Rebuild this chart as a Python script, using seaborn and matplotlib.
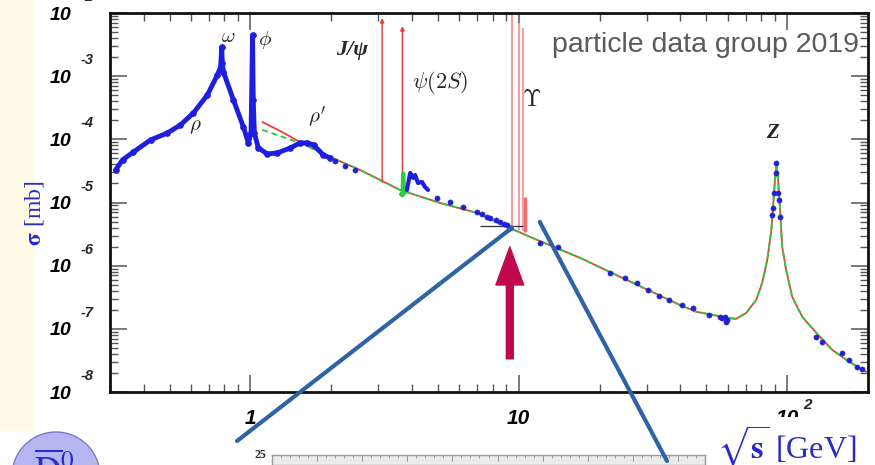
import matplotlib
matplotlib.use('Agg')
import matplotlib.pyplot as plt
import matplotlib.patches as mpatches
from matplotlib.ticker import NullFormatter
import seaborn as sns

# rho / omega / phi region, sqrt(s) in GeV, sigma in mb
low_x = [0.315, 0.334, 0.367, 0.425, 0.491, 0.549, 0.614, 0.692, 0.754, 0.775,
         0.782, 0.786, 0.794, 0.865, 0.942, 0.983, 1.006, 1.019, 1.025, 1.035,
         1.071, 1.157, 1.26, 1.41, 1.53, 1.63, 1.72, 1.87, 1.98]
low_y = [3.28e-5, 4.72e-5, 6.32e-5, 9.8e-5, 1.26e-4, 1.69e-4, 2.62e-4, 5.05e-4, 1.05e-3, 1.40e-3,
         2.90e-3, 1.62e-3, 1.16e-3, 4.20e-4, 1.57e-4, 8.77e-5, 1.26e-4, 4.49e-3, 4.2e-4, 1.26e-4,
         7.31e-5, 5.87e-5, 6.09e-5, 7.31e-5, 8.77e-5, 8.77e-5, 8.15e-5, 5.66e-5, 5.08e-5]

# charm threshold wiggles
charm_x = [3.83, 3.94, 4.04, 4.11, 4.21, 4.36, 4.47, 4.59]
charm_y = [1.58e-5, 2.94e-5, 2.45e-5, 2.73e-5, 2.04e-5, 2.12e-5, 1.77e-5, 1.58e-5]
green_pk_x = [3.64, 3.69, 3.71, 3.74, 3.78]
green_pk_y = [1.35e-5, 1.30e-5, 2.90e-5, 1.40e-5, 1.50e-5]

# measured points above 2 GeV
pts_x = [2.07, 2.25, 2.46, 4.96, 5.54, 6.19, 6.98, 7.3, 7.6, 7.80, 8.2, 8.50, 8.8, 9.02, 9.3,
         12.0, 14.0, 21.8, 24.8, 27.5, 30.2, 33.4, 36.4, 40.7, 44.4, 51.3, 56.0, 57.3, 58.5,
         59.3, 59.5, 87.9, 88.8, 89.5, 91.0, 91.2, 92.5, 93.4, 94.1,
         128.3, 135, 160, 170, 182, 190]
pts_y = [4.55e-5, 3.79e-5, 3.28e-5, 1.18e-5, 1.02e-5, 8.51e-6, 7.10e-6, 6.5e-6, 6.0e-6, 5.70e-6,
         5.3e-6, 4.93e-6, 4.6e-6, 4.42e-6, 4.0e-6,
         2.30e-6, 1.98e-6, 7.69e-7, 6.41e-7, 5.35e-7, 4.14e-7, 3.33e-7, 2.88e-7, 2.40e-7, 2.15e-7,
         1.67e-7, 1.55e-7, 1.49e-7, 1.52e-7, 1.29e-7, 1.38e-7, 6.37e-6, 8.22e-6, 1.42e-5, 2.94e-5,
         4.24e-5, 1.42e-5, 1.10e-5, 5.91e-6, 7.46e-8, 6.22e-8, 4.17e-8, 3.23e-8, 2.50e-8, 2.33e-8]

# fitted curve
fit_x = [1.108, 1.29, 1.53, 1.98, 2.56, 3.04, 3.61, 5.08, 6.98, 9.26, 11.0, 16.9, 21.8, 39.7,
         45.9, 52.6, 59.3, 64.6, 70.4, 76.7, 80.7, 84.3, 87.3, 88.8, 90.2, 91.2, 92.5, 94.1,
         95.8, 99.1, 104.4, 113.8, 128.3, 147, 170, 197]
fit_y = [1.88e-4, 1.36e-4, 9.1e-5, 5.27e-5, 3.28e-5, 2.28e-5, 1.58e-5, 9.86e-6, 6.84e-6, 3.96e-6,
         2.86e-6, 1.33e-6, 7.98e-7, 2.40e-7, 1.86e-7, 1.67e-7, 1.49e-7, 1.44e-7, 1.79e-7, 2.88e-7,
         5.35e-7, 1.24e-6, 3.68e-6, 9.86e-6, 2.54e-5, 4.24e-5, 2.28e-5, 7.64e-6, 1.98e-6, 8.58e-7,
         3.21e-7, 1.55e-7, 8.65e-8, 4.66e-8, 3.01e-8, 2.09e-8]
green_y = [1.41e-4, 1.13e-4, 8.77e-5] + fit_y[3:]

# narrow resonances
psi_x = [3.097, 3.686]
psi_lo = [2.1e-5, 1.46e-5]
psi_hi = [8.3e-3, 6.2e-3]
ups_x = [9.46, 10.02, 10.36]
ups_lo = [4.0e-6, 3.7e-6, 3.5e-6]
ups_hi = [1.0e-2, 6.95e-3, 5.8e-3]
ups4s_x = 10.58
ups4s_lo, ups4s_hi = 3.4e-6, 1.23e-5

X_TICKS = [1, 10, 100]
X_TICK_LABELS = ['1', '10', '10']
X_EXPONENTS = ['', '', '2']
Y_TICKS = [1e-8, 1e-7, 1e-6, 1e-5, 1e-4, 1e-3, 1e-2]
Y_TICK_LABELS = ['10'] * 7
Y_EXPONENTS = ['-8', '-7', '-6', '-5', '-4', '-3', '-2']

BLUE = '#1e1ee0'
RED = '#e8403a'
GREEN = '#2ecc40'
PINK = '#f3a0a0'
LABEL_BLUE = '#2a2ac8'
TICK_FONT = dict(family='Liberation Sans', fontweight='bold', fontstyle='italic')

sns.set_theme(style='ticks')
plt.rcParams['font.family'] = ['Liberation Sans', 'DejaVu Sans']

fig = plt.figure(figsize=(8.75, 4.65), dpi=100)
fig.patch.set_facecolor('white')
fig.add_artist(mpatches.Rectangle((0, 1 - 430 / 465), 33 / 875, 430 / 465,
                                  transform=fig.transFigure, color='#fffbe6', zorder=-2))

ax = fig.add_axes([110 / 875, 1 - 392 / 465, 758 / 875, 379 / 465])
ax.set_facecolor('white')

sns.lineplot(x=fit_x, y=fit_y, ax=ax, color=RED, lw=1.3, sort=False, estimator=None, zorder=2)
sns.lineplot(x=fit_x, y=green_y, ax=ax, color=GREEN, lw=1.4, ls=(0, (3, 2)),
             sort=False, estimator=None, zorder=2)

for x, lo, hi in zip(psi_x, psi_lo, psi_hi):
    ax.annotate('', xy=(x, hi), xytext=(x, lo),
                arrowprops=dict(arrowstyle='-|>', color='#e23a36', lw=1.0,
                                mutation_scale=6, shrinkA=0, shrinkB=0), zorder=2)
ax.vlines(ups_x, ups_lo, ups_hi, color=PINK, lw=1.5, zorder=2)
ax.vlines(ups4s_x, ups4s_lo, ups4s_hi, color='#f07070', lw=2.5, zorder=2)
ax.hlines(4.27e-6, 7.16, 10.35, color='#333333', lw=0.9, zorder=2)

sns.lineplot(x=green_pk_x, y=green_pk_y, ax=ax, color=GREEN, lw=3, sort=False,
             estimator=None, zorder=3)
sns.lineplot(x=low_x, y=low_y, ax=ax, color=BLUE, lw=3.5, marker='o', ms=4,
             mec=BLUE, sort=False, estimator=None, zorder=4)
sns.lineplot(x=charm_x, y=charm_y, ax=ax, color=BLUE, lw=3, sort=False,
             estimator=None, zorder=4)
sns.scatterplot(x=pts_x, y=pts_y, ax=ax, color=BLUE, s=14, edgecolor='#3030a0',
                linewidth=0.4, zorder=5)

ax.set_xscale('log')
ax.set_yscale('log')
ax.set_xlim(0.3, 200)
ax.set_ylim(1e-8, 1e-2)
ax.set_xticks(X_TICKS, X_TICK_LABELS)
ax.set_yticks(Y_TICKS, Y_TICK_LABELS)
ax.xaxis.set_minor_formatter(NullFormatter())
ax.yaxis.set_minor_formatter(NullFormatter())
ax.tick_params(which='both', direction='in', top=True, right=True, color='#555555',
               labelcolor='black')
ax.tick_params(which='major', length=12, width=1.1)
ax.tick_params(which='minor', length=6, width=1.0)
ax.tick_params(axis='x', pad=12, labelsize=15)
ax.tick_params(axis='y', pad=28, labelsize=14)
for lbl in ax.get_xticklabels() + ax.get_yticklabels():
    lbl.set_fontweight('bold')
    lbl.set_fontstyle('italic')
for sp in ax.spines.values():
    sp.set_color('#111111')
    sp.set_linewidth(2)

# ROOT style exponents, set apart from the "10"
for tick, ex in zip(Y_TICKS, Y_EXPONENTS):
    ax.annotate(ex, xy=(0, tick), xycoords=('axes fraction', 'data'), xytext=(-16.5, 11.5),
                textcoords='offset points', ha='center', va='center', fontsize=10.5,
                annotation_clip=False, **TICK_FONT)
for tick, ex in zip(X_TICKS, X_EXPONENTS):
    if ex:
        ax.annotate(ex, xy=(tick, 0), xycoords=('data', 'axes fraction'), xytext=(14.5, -9.5),
                    textcoords='offset points', ha='center', va='center', fontsize=11,
                    annotation_clip=False, **TICK_FONT)

# resonance names
ax.text(0.828, 4.17e-3, r'$\omega$', math_fontfamily='cm', fontsize=15, ha='center', va='center')
ax.text(1.137, 3.74e-3, r'$\phi$', math_fontfamily='cm', fontsize=15, ha='center', va='center')
ax.text(0.624, 1.57e-4, r'$\rho$', math_fontfamily='cm', fontsize=15, ha='center', va='center')
ax.text(1.775, 2.26e-4, r"$\rho'$", math_fontfamily='cm', fontsize=15, ha='center', va='center')
ax.text(2.39, 2.6e-3, 'J/ψ', family='Liberation Serif', fontweight='bold', fontstyle='italic',
        fontsize=16, ha='center', va='center')
ax.text(5.08, 7.8e-4, r'$\psi(2S)$', math_fontfamily='cm', fontsize=16, ha='center', va='center')
ax.text(11.2, 4.2e-4, r'$\Upsilon$', math_fontfamily='cm', fontsize=17, ha='center', va='center')
ax.text(88, 1.26e-4, 'Z', family='Liberation Serif', fontweight='bold', fontstyle='italic',
        fontsize=15, ha='center', va='center')

# red arrow and zoom lines
ax.annotate('', xy=(9.26, 1.98e-6), xytext=(9.26, 3.35e-8),
            arrowprops=dict(arrowstyle='simple,head_length=1.37,head_width=1.0,tail_width=0.25',
                            mutation_scale=20, color='#c2084c', shrinkA=0, shrinkB=0),
            annotation_clip=False, zorder=6)
ax.annotate('', xy=(9.42, 3.96e-6), xytext=(237 / 875, 1 - 441 / 465), textcoords='figure fraction',
            arrowprops=dict(arrowstyle='-', lw=3, color='#2f63a6', shrinkA=0, shrinkB=0),
            annotation_clip=False, zorder=6)
ax.annotate('', xy=(11.97, 4.93e-6), xytext=(667 / 875, 1 - 461 / 465), textcoords='figure fraction',
            arrowprops=dict(arrowstyle='-', lw=3, color='#2f63a6', shrinkA=0, shrinkB=0),
            annotation_clip=False, zorder=6)

fig.text(552 / 875, 1 - 32 / 465, 'particle data group 2019', color='#5a5a5a', fontsize=20.5,
         ha='left', va='top')
fig.text(35 / 875, 1 - 213 / 465, r'$\mathbf{\sigma}$ [mb]', rotation=90, ha='center', va='center',
         fontsize=17, family='Liberation Serif', math_fontfamily='stix', color=LABEL_BLUE)
fig.text(717 / 875, 1 - 446 / 465, r'$\sqrt{\mathbf{s}}$ [GeV]', ha='left', va='center',
         fontsize=23, family='Liberation Serif', math_fontfamily='stix', color=LABEL_BLUE,
         bbox=dict(fc='white', ec='none', pad=4.5))

# part of the next panel at the bottom
ax2 = fig.add_axes([272 / 875, 0, 433 / 875, 10 / 465])
ax2.set_zorder(-1)
ax2.set_facecolor('#ebebeb')
ax2.set_xlim(0, 48)
ax2.set_ylim(24, 25)
ax2.set_xticks(range(0, 49, 5))
ax2.set_xticks(range(0, 49), minor=True)
ax2.set_yticks([25], ['25'])
ax2.tick_params(which='both', direction='in', top=True, bottom=False, labelbottom=False,
                color='#888888', width=0.6)
ax2.tick_params(which='major', length=4)
ax2.tick_params(which='minor', length=2)
ax2.tick_params(axis='y', length=0, pad=4, labelsize=8.5)
for lbl in ax2.get_yticklabels():
    lbl.set_family('Liberation Serif')
    lbl.set_fontweight('bold')
    lbl.set_va('center')
for sp in ax2.spines.values():
    sp.set_color('#9a9a9a')
    sp.set_linewidth(1)

# D-bar badge, bottom left
fig.add_artist(mpatches.Ellipse((56 / 875, 1 - 476 / 465), 88 / 875, 88 / 465,
                                transform=fig.transFigure, fc='#b6b6f2', ec='#7a7ad2', lw=1))
fig.text(34 / 875, 1 - 452 / 465, r'$\overline{\mathrm{D}}^{0}$', ha='left', va='top', fontsize=26,
         math_fontfamily='stix', color='#2a2ad0')

fig.savefig('out.png', dpi=100)
